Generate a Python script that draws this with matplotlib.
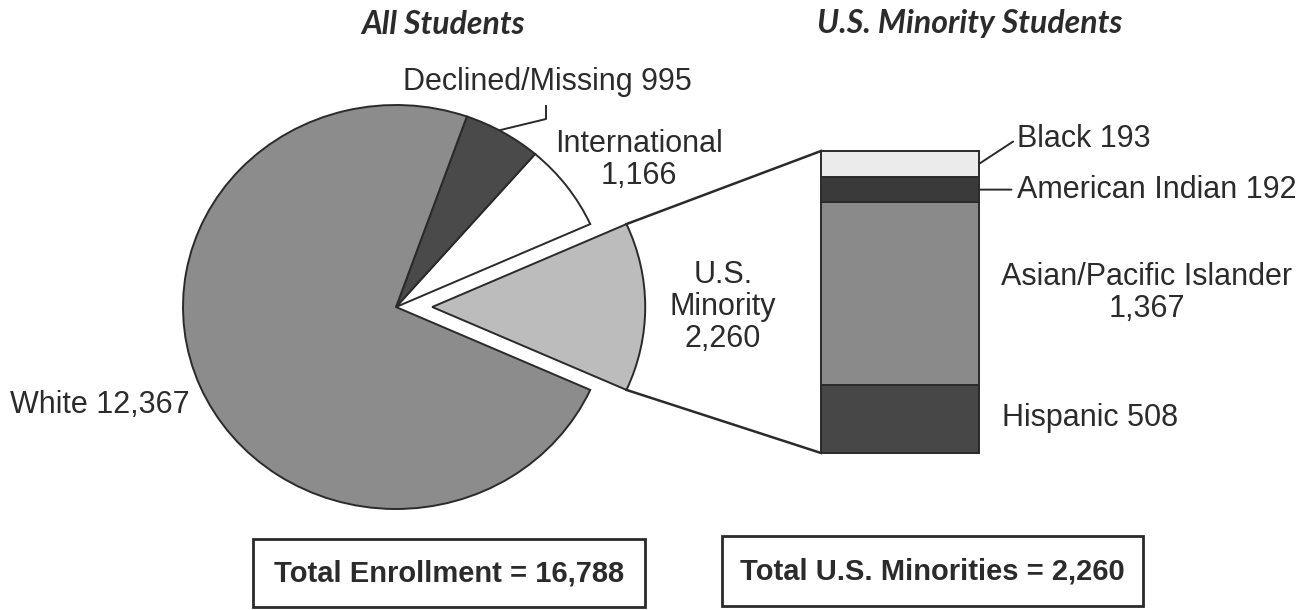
import matplotlib
matplotlib.use("Agg")
import matplotlib.pyplot as plt
from matplotlib.patches import Rectangle
import numpy as np

# ---- data ----
pie_labels = ["U.S.\nMinority\n2,260", "International\n1,166", "Declined/Missing 995", "White 12,367"]
pie_values = [2260, 1166, 995, 12367]
bar_labels = ["Hispanic 508", "Asian/Pacific Islander\n1,367", "American Indian 192", "Black 193"]
bar_values = [508, 1367, 192, 193]
total_enrollment = "Total Enrollment = 16,788"
total_minorities = "Total U.S. Minorities = 2,260"

W, H = 1309, 610
fig = plt.figure(figsize=(W / 100, H / 100), dpi=100)
fig.patch.set_facecolor("white")

TXT = "#2b2b2b"
EDGE = "#2a2a2a"
FONT = "Liberation Sans"

# overlay axes in pixel coordinates
ax = fig.add_axes([0, 0, 1, 1], zorder=0)
ax.set_xlim(0, W)
ax.set_ylim(H, 0)
ax.axis("off")

# ---- pie (slightly elliptical, as in reference) ----
cx, cy, rx, ry = 396, 307, 213, 202
pax = fig.add_axes([0, 0, 1, 1], zorder=1)
pax.patch.set_alpha(0)
pie_colors = ["#bcbcbc", "#ffffff", "#4a4a4a", "#8c8c8c"]
half = pie_values[0] / sum(pie_values) * 180
wedges, _ = pax.pie(pie_values, colors=pie_colors, startangle=-half, counterclock=True,
                    explode=[0.17, 0, 0, 0], radius=1, center=(0, 0), frame=True,
                    wedgeprops=dict(edgecolor=EDGE, linewidth=1.4))
pax.set_aspect("auto")
pax.set_xlim(-cx / rx, (W - cx) / rx)
pax.set_ylim(-(H - cy) / ry, cy / ry)
pax.axis("off")

# ---- stacked bar ----
bx0, bx1, by0, by1 = 821, 979, 151, 453
bax = fig.add_axes([bx0 / W, (H - by1) / H, (bx1 - bx0) / W, (by1 - by0) / H], zorder=2)
bax.patch.set_alpha(0)
bar_colors = ["#474747", "#8a8a8a", "#3a3a3a", "#ebebeb"]
bottom = 0
bars = []
for v, c in zip(bar_values, bar_colors):
    b = bax.bar(0, v, bottom=bottom, width=1, color=c, edgecolor=EDGE, linewidth=1.4)
    for p in b:
        p.set_clip_on(False)
    bars.append((bottom, v))
    bottom += v
bax.set_xlim(-0.5, 0.5)
bax.set_ylim(0, sum(bar_values))
bax.axis("off")


def to_main(trans, pt):
    return ax.transData.inverted().transform(trans.transform(pt))


# connecting lines from the exploded wedge to the bar
w = wedges[0]
wc = np.array(w.center)
p_top = wc + w.r * np.array([np.cos(np.radians(w.theta2)), np.sin(np.radians(w.theta2))])
p_bot = wc + w.r * np.array([np.cos(np.radians(w.theta1)), np.sin(np.radians(w.theta1))])
a_top = to_main(pax.transData, p_top)
a_bot = to_main(pax.transData, p_bot)
b_top = to_main(bax.transData, (-0.5, sum(bar_values)))
b_bot = to_main(bax.transData, (-0.5, 0))
ax.plot([a_top[0], b_top[0]], [a_top[1], b_top[1]], color=EDGE, lw=1.8)
ax.plot([a_bot[0], b_bot[0]], [a_bot[1], b_bot[1]], color=EDGE, lw=1.8)

lab = dict(fontsize=22, color=TXT, family=FONT)

# titles
title_kw = dict(fontsize=23, color=TXT, family="Lato", fontweight="bold", style="italic",
                ha="center", va="center")
ax.text(443, 24, "All Students", **title_kw)
ax.text(970, 24, "U.S. Minority Students", **title_kw)

# pie labels
ax.text(723, 307, pie_labels[0], ha="center", va="center", linespacing=1.1, **lab)
ax.text(639, 160, pie_labels[1], ha="center", va="center", linespacing=1.1, **lab)
ax.text(547, 82, pie_labels[2], ha="center", va="center", **lab)
ax.text(10, 405, pie_labels[3], ha="left", va="center", **lab)

# declined leader
wd = wedges[2]
ang = np.radians(61.0)
edge_pt = to_main(pax.transData, (np.cos(ang), np.sin(ang)))
ax.plot([546, 546, edge_pt[0]], [106, 119, edge_pt[1]], color=EDGE, lw=1.4)

# bar labels
b0, v0 = bars[3]
ax.annotate(bar_labels[3], xy=(0.5, b0 + v0 / 2), xycoords=bax.transData,
            xytext=(1017, 139), textcoords="data", ha="left", va="center",
            arrowprops=dict(arrowstyle="-", color=EDGE, lw=1.4, relpos=(0, 0.5),
                            shrinkA=1, shrinkB=0), **lab)
b0, v0 = bars[2]
ymid = to_main(bax.transData, (0.5, b0 + v0 / 2))[1]
ax.annotate(bar_labels[2], xy=(0.5, b0 + v0 / 2), xycoords=bax.transData,
            xytext=(1017, ymid), textcoords="data", ha="left", va="center",
            arrowprops=dict(arrowstyle="-", color=EDGE, lw=1.4, relpos=(0, 0.5),
                            shrinkA=2, shrinkB=0), **lab)
ax.text(1147, 293, bar_labels[1], ha="center", va="center", linespacing=1.1, **lab)
ax.text(1002, 418, bar_labels[0], ha="left", va="center", **lab)

# total boxes
ax.add_patch(Rectangle((253, 539), 392, 68, facecolor="white", edgecolor=EDGE, lw=2))
ax.text(449, 573, total_enrollment, ha="center", va="center", fontsize=21,
        fontweight="bold", color=TXT, family=FONT)
ax.add_patch(Rectangle((722, 536), 421, 70, facecolor="white", edgecolor=EDGE, lw=2))
ax.text(932, 572, total_minorities, ha="center", va="center", fontsize=21,
        fontweight="bold", color=TXT, family=FONT)

fig.savefig("out.png", dpi=100, facecolor="white")
